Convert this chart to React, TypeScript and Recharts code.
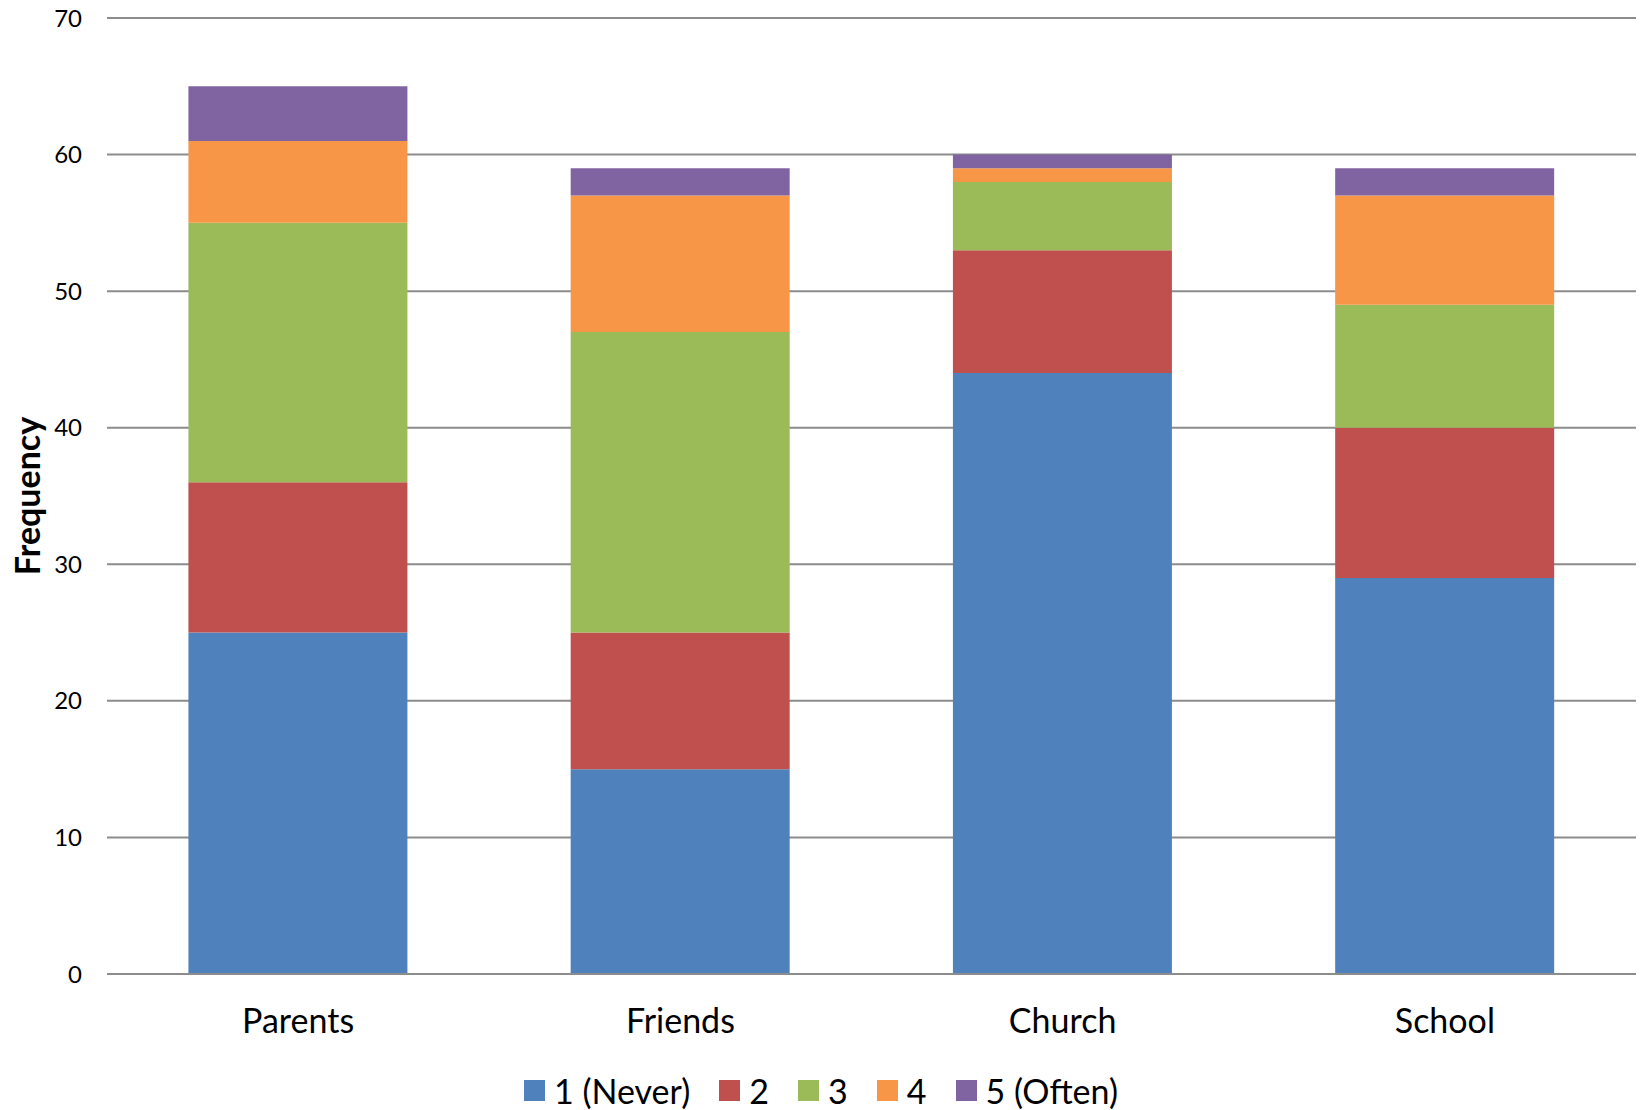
import React from 'react';
import { BarChart, Bar, XAxis, YAxis, CartesianGrid, Legend, Label } from 'recharts';

const categories = ['Parents', 'Friends', 'Church', 'School'];
const never = [25, 15, 44, 29];
const two = [11, 10, 9, 11];
const three = [19, 22, 5, 9];
const four = [6, 10, 1, 8];
const often = [4, 2, 1, 2];
const yTicks = [0, 10, 20, 30, 40, 50, 60, 70];

const series = [
    { key: 'never', name: '1 (Never)', color: '#4F81BD', values: never },
    { key: 'two', name: '2', color: '#C0504D', values: two },
    { key: 'three', name: '3', color: '#9BBB59', values: three },
    { key: 'four', name: '4', color: '#F79646', values: four },
    { key: 'often', name: '5 (Often)', color: '#8064A2', values: often },
];

const data = categories.map((c, i) => {
    const row: Record<string, string | number> = { category: c };
    series.forEach(s => { row[s.key] = s.values[i]; });
    return row;
});

const FONT = 'Lato, "Open Sans", sans-serif';
const GRID = '#8c8c8c';

const renderLegend = () => (
    <div style={{ display: 'flex', justifyContent: 'center', alignItems: 'center', height: 40, fontFamily: FONT, fontSize: 34, color: '#000' }}>
        {series.map((s, i) => (
            <div key={s.key} style={{ display: 'flex', alignItems: 'center', marginLeft: i === 0 ? 0 : 29 }}>
                <span style={{ display: 'inline-block', width: 21, height: 21, background: s.color, marginRight: 9 }} />
                <span>{s.name}</span>
            </div>
        ))}
    </div>
);

export default function App() {
    return (
        <div style={{ position: 'absolute', top: 0, left: 0, background: '#fff' }}>
            <BarChart width={1642} height={1110} data={data} barCategoryGap="21.3%"
                margin={{ top: 18, right: 6, left: 0, bottom: 0 }}>
                <CartesianGrid vertical={false} stroke={GRID} strokeWidth={2} />
                <XAxis dataKey="category" height={96} tickLine={false} tickSize={0} tickMargin={35}
                    axisLine={{ stroke: GRID, strokeWidth: 2 }}
                    tick={{ fontSize: 34, fill: '#000', fontFamily: FONT }} />
                <YAxis width={107} domain={[0, 70]} ticks={yTicks} axisLine={false} tickLine={false}
                    tickSize={0} tickMargin={25} tick={{ fontSize: 24, fill: '#000', fontFamily: FONT }}>
                    <Label value="Frequency" angle={-90} position="insideLeft" offset={28}
                        style={{ textAnchor: 'middle', fontSize: 34, fontWeight: 'bold', fill: '#000', fontFamily: FONT }} />
                </YAxis>
                <Legend verticalAlign="bottom" height={40} content={renderLegend}
                    wrapperStyle={{ left: 0, width: 1642 }} />
                {series.map(s => (
                    <Bar key={s.key} dataKey={s.key} name={s.name} stackId="a" fill={s.color} isAnimationActive={false} />
                ))}
            </BarChart>
        </div>
    );
}
